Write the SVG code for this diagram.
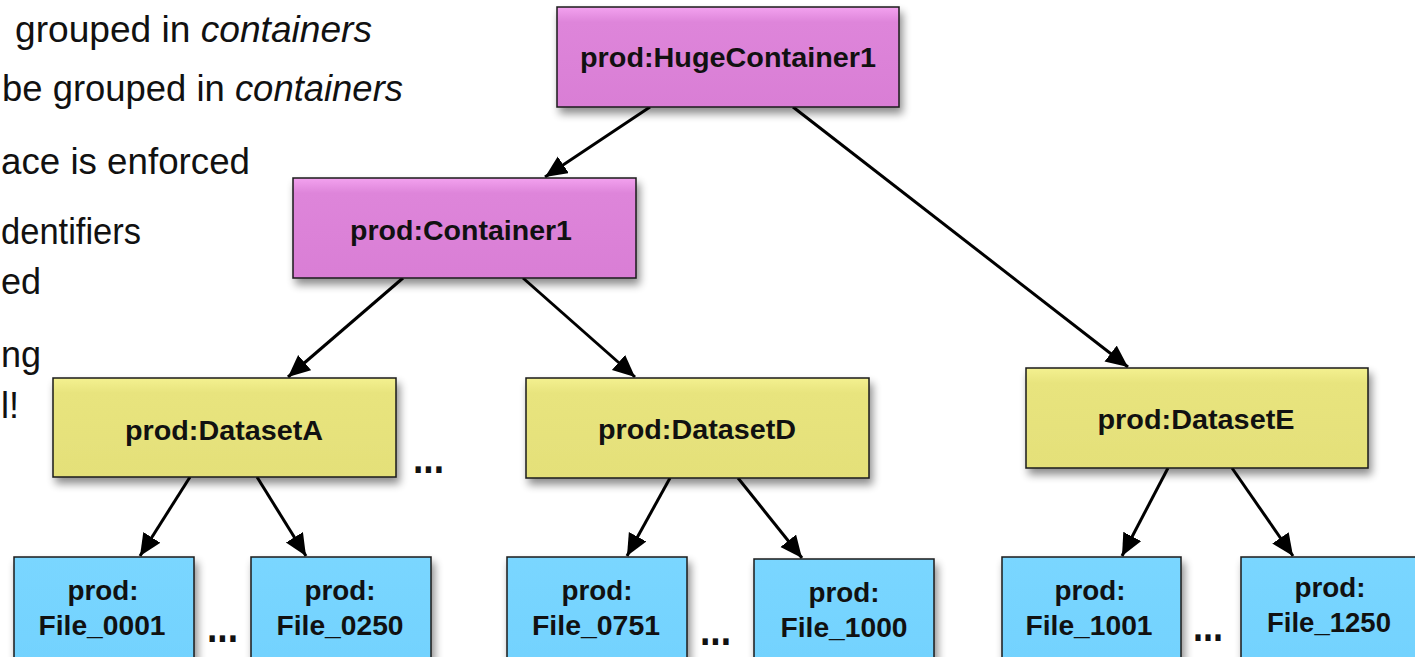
<svg xmlns="http://www.w3.org/2000/svg" width="1415" height="657" viewBox="0 0 1415 657">
<style>
.bt{font-family:"Liberation Sans",Arial,sans-serif;font-size:36px;fill:#111}
.it{font-style:italic}
.nl{font-family:"Liberation Sans",Arial,sans-serif;font-weight:bold;font-size:27px;fill:#111;text-anchor:middle}
.dots{font-family:"Liberation Sans",Arial,sans-serif;font-weight:bold;font-size:44px;fill:#111}
.box{stroke:#1a1a1a;stroke-width:1.5}
.pink{fill:url(#gPink)}
.yel{fill:url(#gYel)}
.blue{fill:url(#gBlue)}
.edge{stroke:#000;stroke-width:3;fill:none;marker-end:url(#arr)}
</style>
<defs>
<linearGradient id="gPink" x1="0" y1="0" x2="0" y2="1">
<stop offset="0" stop-color="#F3A2EF"/><stop offset="0.15" stop-color="#DE85DA"/><stop offset="1" stop-color="#D97ED5"/>
</linearGradient>
<linearGradient id="gYel" x1="0" y1="0" x2="0" y2="1">
<stop offset="0" stop-color="#F4F190"/><stop offset="0.15" stop-color="#E8E47E"/><stop offset="1" stop-color="#E4E079"/>
</linearGradient>
<linearGradient id="gBlue" x1="0" y1="0" x2="0" y2="1">
<stop offset="0" stop-color="#7AD6FF"/><stop offset="1" stop-color="#72D2FE"/>
</linearGradient>
<filter id="sh" x="-10%" y="-10%" width="125%" height="135%">
<feGaussianBlur in="SourceAlpha" stdDeviation="4"/>
<feOffset dx="3" dy="6" result="b"/>
<feComponentTransfer><feFuncA type="linear" slope="0.45"/></feComponentTransfer>
<feMerge><feMergeNode/><feMergeNode in="SourceGraphic"/></feMerge>
</filter>
<marker id="arr" markerUnits="userSpaceOnUse" markerWidth="24" markerHeight="22" refX="22" refY="10" orient="auto">
<path d="M0,0 L22,10 L0,20 Z" fill="#000"/>
</marker>
</defs>
<rect width="1415" height="657" fill="#fff"/>

<g id="bullets">
<text class="bt" x="15" y="42" textLength="357" lengthAdjust="spacingAndGlyphs">grouped in <tspan class="it">containers</tspan></text>
<text class="bt" x="2" y="101" textLength="401" lengthAdjust="spacingAndGlyphs">be grouped in <tspan class="it">containers</tspan></text>
<text class="bt" x="1" y="174" textLength="249" lengthAdjust="spacingAndGlyphs">ace is enforced</text>
<text class="bt" x="1" y="244" textLength="140" lengthAdjust="spacingAndGlyphs">dentifiers</text>
<text class="bt" x="1" y="294">ed</text>
<text class="bt" x="1" y="367">ng</text>
<text class="bt" x="1" y="418">l!</text>
</g>

<g id="connectors">
<line class="edge" x1="650" y1="107" x2="545" y2="177"/>
<line class="edge" x1="793" y1="107" x2="1128" y2="367"/>
<line class="edge" x1="403" y1="278" x2="288" y2="377"/>
<line class="edge" x1="523" y1="278" x2="635" y2="377"/>
<line class="edge" x1="190" y1="477" x2="140" y2="556"/>
<line class="edge" x1="257" y1="477" x2="306" y2="556"/>
<line class="edge" x1="670" y1="478" x2="627" y2="556"/>
<line class="edge" x1="738" y1="478" x2="802" y2="558"/>
<line class="edge" x1="1168" y1="468" x2="1122" y2="556"/>
<line class="edge" x1="1232" y1="468" x2="1293" y2="556"/>
</g>

<g id="HugeContainer1">
<rect class="box pink" x="557" y="7" width="342" height="100" filter="url(#sh)"/>
<text class="nl" x="728" y="67" textLength="296" lengthAdjust="spacingAndGlyphs">prod:HugeContainer1</text>
</g>
<g id="Container1">
<rect class="box pink" x="293" y="178" width="343" height="100" filter="url(#sh)"/>
<text class="nl" x="461" y="240" textLength="222" lengthAdjust="spacingAndGlyphs">prod:Container1</text>
</g>
<g id="DatasetA">
<rect class="box yel" x="53" y="378" width="343" height="99" filter="url(#sh)"/>
<text class="nl" x="224" y="440" textLength="198" lengthAdjust="spacingAndGlyphs">prod:DatasetA</text>
</g>
<g id="DatasetD">
<rect class="box yel" x="526" y="378" width="343" height="100" filter="url(#sh)"/>
<text class="nl" x="697" y="439" textLength="198" lengthAdjust="spacingAndGlyphs">prod:DatasetD</text>
</g>
<g id="DatasetE">
<rect class="box yel" x="1026" y="368" width="342" height="100" filter="url(#sh)"/>
<text class="nl" x="1196" y="429" textLength="197" lengthAdjust="spacingAndGlyphs">prod:DatasetE</text>
</g>

<g id="File_0001">
<rect class="box blue" x="14" y="557" width="180" height="110" filter="url(#sh)"/>
<text class="nl" x="103" y="600" textLength="71" lengthAdjust="spacingAndGlyphs">prod:</text>
<text class="nl" x="102" y="635" textLength="127" lengthAdjust="spacingAndGlyphs">File_0001</text>
</g>
<g id="File_0250">
<rect class="box blue" x="251" y="557" width="180" height="110" filter="url(#sh)"/>
<text class="nl" x="340" y="600" textLength="71" lengthAdjust="spacingAndGlyphs">prod:</text>
<text class="nl" x="340" y="635" textLength="127" lengthAdjust="spacingAndGlyphs">File_0250</text>
</g>
<g id="File_0751">
<rect class="box blue" x="507" y="557" width="180" height="110" filter="url(#sh)"/>
<text class="nl" x="597" y="600" textLength="71" lengthAdjust="spacingAndGlyphs">prod:</text>
<text class="nl" x="596" y="635" textLength="128" lengthAdjust="spacingAndGlyphs">File_0751</text>
</g>
<g id="File_1000">
<rect class="box blue" x="754" y="559" width="180" height="110" filter="url(#sh)"/>
<text class="nl" x="844" y="602" textLength="71" lengthAdjust="spacingAndGlyphs">prod:</text>
<text class="nl" x="844" y="637" textLength="127" lengthAdjust="spacingAndGlyphs">File_1000</text>
</g>
<g id="File_1001">
<rect class="box blue" x="1002" y="557" width="179" height="110" filter="url(#sh)"/>
<text class="nl" x="1090" y="600" textLength="71" lengthAdjust="spacingAndGlyphs">prod:</text>
<text class="nl" x="1089" y="635" textLength="127" lengthAdjust="spacingAndGlyphs">File_1001</text>
</g>
<g id="File_1250">
<rect class="box blue" x="1241" y="557" width="180" height="110" filter="url(#sh)"/>
<text class="nl" x="1330" y="597" textLength="71" lengthAdjust="spacingAndGlyphs">prod:</text>
<text class="nl" x="1329" y="632" textLength="124" lengthAdjust="spacingAndGlyphs">File_1250</text>
</g>

<g id="ellipses">
<text class="dots" x="413" y="473" textLength="31" lengthAdjust="spacingAndGlyphs">...</text>
<text class="dots" x="207" y="642" textLength="31" lengthAdjust="spacingAndGlyphs">...</text>
<text class="dots" x="700" y="645" textLength="31" lengthAdjust="spacingAndGlyphs">...</text>
<text class="dots" x="1193" y="641" textLength="30" lengthAdjust="spacingAndGlyphs">...</text>
</g>
</svg>
